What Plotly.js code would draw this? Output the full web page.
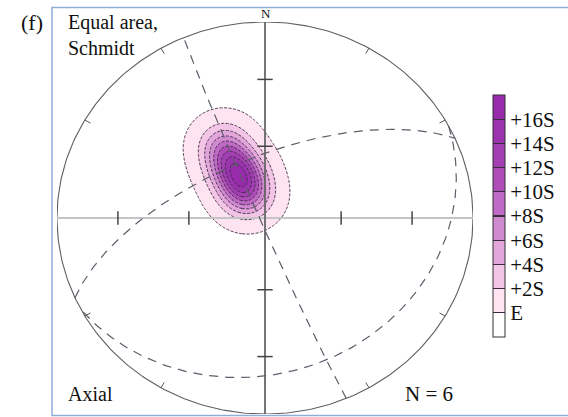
<!DOCTYPE html>
<html><head><meta charset="utf-8">
<script src="https://cdn.plot.ly/plotly-3.0.1.min.js"></script>
<style>html,body{margin:0;padding:0;background:#fff}</style>
</head><body><div id="chart" style="width:568px;height:417px"></div>
<script>
// ---- data ----
// poles to planes (trend, plunge, degrees), N = 6
const poleTrend  = [332, 330, 331, 331, 326, 324];
const polePlunge = [55, 62, 67, 70, 75, 79];
// great circles (dip direction, dip)
const planeDipDir = [247, 336, 152];
const planeDip    = [88, 65, 23];
// density contour levels (in S above E)
const levelValues = [0, 2, 4, 6, 8, 10, 12, 14, 16];
const levelLabels = ['E', '+2S', '+4S', '+6S', '+8S', '+10S', '+12S', '+14S', '+16S'];
const bandColors  = ['#ffffff', '#fde4f0', '#f2c4e6', '#e2a6db', '#d08ad0',
                     '#bf6ac4', '#ae4db8', '#a33fb2', '#9c33ae', '#972bab'];
// density statistics (kernel-sum units)
const densE = 0.06, densS = 0.195, kernelSigma = 0.078;
// primitive ticks (azimuths) and plunge ticks on the cross
const rimTickAz = [30, 60, 120, 150, 210, 240, 300, 330];
const crossTickPlunge = [60, 30];

// ---- projection (equal-area, lower hemisphere, unit primitive) ----
const D = Math.PI / 180;
function proj(trend, plunge) {
  const r = Math.SQRT2 * Math.sin((90 - plunge) * D / 2);
  return [r * Math.sin(trend * D), r * Math.cos(trend * D)];
}
function greatCircle(dd, dip) {
  const s = (dd - 90) * D, ddr = dd * D, dr = dip * D;
  const sv = [Math.sin(s), Math.cos(s), 0];
  const dv = [Math.cos(dr) * Math.sin(ddr), Math.cos(dr) * Math.cos(ddr), Math.sin(dr)];
  const xs = [], ys = [];
  for (let a = 0; a <= 180; a += 1) {
    const c = Math.cos(a * D), si = Math.sin(a * D);
    const v = [c * sv[0] + si * dv[0], c * sv[1] + si * dv[1], c * sv[2] + si * dv[2]];
    const tr = Math.atan2(v[0], v[1]) / D;
    const pl = Math.asin(Math.max(-1, Math.min(1, v[2]))) / D;
    const p = proj(tr, pl);
    xs.push(p[0]); ys.push(p[1]);
  }
  return [xs, ys];
}

const traces = [];

// density grid
const poles = poleTrend.map((t, i) => proj(t, polePlunge[i]));
const gx = [], gy = [], gz = [];
const N = 201;
for (let i = 0; i < N; i++) { gx.push(-1 + 2 * i / (N - 1)); gy.push(-1 + 2 * i / (N - 1)); }
for (let j = 0; j < N; j++) {
  const row = [];
  for (let i = 0; i < N; i++) {
    let s = 0;
    for (const p of poles) {
      const dx = gx[i] - p[0], dy = gy[j] - p[1];
      s += Math.exp(-(dx * dx + dy * dy) / (2 * kernelSigma * kernelSigma));
    }
    row.push((s - densE) / densS);
  }
  gz.push(row);
}
const nb = bandColors.length;
const fillScale = bandColors.map((c, k) => [k / (nb - 1), k === 0 ? 'rgba(255,255,255,0)' : c]);
const step = levelValues[1] - levelValues[0];
traces.push({
  type: 'contour', x: gx, y: gy, z: gz,
  autocontour: false, showscale: false,
  contours: {start: levelValues[0], end: levelValues[levelValues.length - 1], size: step, coloring: 'fill'},
  colorscale: fillScale,
  line: {color: '#3c2a44', width: 0.9, dash: '3px,1.5px', smoothing: 1},
  hoverinfo: 'skip'
});

// colour key: stepped boxes with dark dividers
const keyScale = [];
const dv = 0.0022;
for (let k = 0; k < nb; k++) {
  const a = k / nb, b = (k + 1) / nb;
  keyScale.push([k === 0 ? 0 : a + dv, bandColors[k]]);
  keyScale.push([k === nb - 1 ? 1 : b - dv, bandColors[k]]);
  if (k < nb - 1) { keyScale.push([b - dv, '#3a2a3e']); keyScale.push([b + dv, '#3a2a3e']); }
}
traces.push({
  type: 'scatter', mode: 'markers', x: [0], y: [0], hoverinfo: 'skip',
  marker: {size: 0.1, opacity: 0, color: [levelValues[0]], colorscale: keyScale,
    cmin: levelValues[0] - step, cmax: levelValues[levelValues.length - 1] + step, showscale: true,
    colorbar: {
      x: (493 - 57) / 416, xanchor: 'left', xpad: 0, ypad: 0,
      y: (414 - 216) / 392, yanchor: 'middle',
      thickness: 12, thicknessmode: 'pixels', len: 242, lenmode: 'pixels',
      outlinecolor: '#333', outlinewidth: 1,
      tickvals: levelValues, ticktext: levelLabels, ticks: '', ticklen: 0,
      tickfont: {family: 'Liberation Serif', size: 21, color: '#111'}
    }}
});

// primitive circle
const cx = [], cy = [];
for (let a = 0; a <= 360; a += 1) { cx.push(Math.sin(a * D)); cy.push(Math.cos(a * D)); }
traces.push({type: 'scatter', mode: 'lines', x: cx, y: cy, line: {color: '#5e5e5e', width: 1.1}, hoverinfo: 'skip'});

// cross
traces.push({type: 'scatter', mode: 'lines', x: [-1, 1], y: [0, 0], line: {color: '#c4c4c4', width: 1.8}, hoverinfo: 'skip'});
traces.push({type: 'scatter', mode: 'lines', x: [0, 0], y: [1.005, -1.01], line: {color: '#666', width: 1.8}, hoverinfo: 'skip'});

// cross ticks
const tkx = [], tky = [];
for (const pl of crossTickPlunge) {
  const r = proj(90, pl)[0];
  for (const sg of [-1, 1]) {
    tkx.push(sg * r, sg * r, null); tky.push(-0.034, 0.034, null);
    tkx.push(-0.037, 0.037, null); tky.push(sg * r, sg * r, null);
  }
}
traces.push({type: 'scatter', mode: 'lines', x: tkx, y: tky, line: {color: '#444', width: 1.5}, hoverinfo: 'skip'});

// rim ticks
const rx = [], ry = [];
for (const az of rimTickAz) {
  const o = proj(az, 0), i2 = proj(az, 3.5);
  rx.push(o[0], i2[0], null); ry.push(o[1], i2[1], null);
}
traces.push({type: 'scatter', mode: 'lines', x: rx, y: ry, line: {color: '#555', width: 1}, hoverinfo: 'skip'});

// great circles
planeDipDir.forEach((dd, k) => {
  const g = greatCircle(dd, planeDip[k]);
  traces.push({type: 'scatter', mode: 'lines', x: g[0], y: g[1], line: {color: '#5d5d6a', width: 1.2, dash: '9px,7px'}, hoverinfo: 'skip'});
});

const px = v => (v - 57) / 416, py = v => (414 - v) / 392;
const serif = 'Liberation Serif, Times New Roman, serif';
const ann = (text, x, y, size, xanchor) => ({text, x: px(x), y: py(y), xref: 'paper', yref: 'paper',
  showarrow: false, xanchor: xanchor || 'left', yanchor: 'middle', font: {family: serif, size, color: '#111'}});

const layout = {
  width: 568, height: 417,
  margin: {l: 57, r: 95, t: 22, b: 3},
  paper_bgcolor: '#fff', plot_bgcolor: 'rgba(0,0,0,0)',
  showlegend: false,
  xaxis: {range: [-1, 1], visible: false, fixedrange: true},
  yaxis: {range: [-1, 1], visible: false, fixedrange: true},
  shapes: [{type: 'rect', xref: 'paper', yref: 'paper', x0: px(52), x1: px(580), y0: py(415.5), y1: py(7.5),
            line: {color: '#8eaed6', width: 1.5}, layer: 'below'}],
  annotations: [
    ann('(f)', 19, 22, 22),
    ann('Equal area,', 66, 22, 20),
    ann('Schmidt', 66, 48, 20),
    ann('N', 266, 14, 13, 'center'),
    ann('Axial', 66, 394, 20),
    ann('N = 6', 403, 394, 21)
  ]
};
Plotly.newPlot('chart', traces, layout, {displayModeBar: false, staticPlot: true});
</script></body></html>
